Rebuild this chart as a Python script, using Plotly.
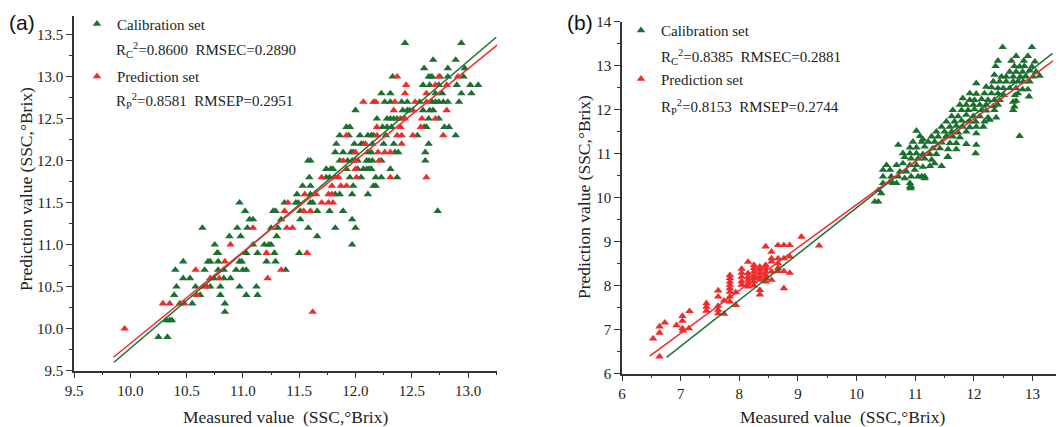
import plotly.graph_objects as go

# ---------------- Panel (a) data ----------------
a_cal_x = [10.25, 10.33, 10.32, 10.35, 10.37, 10.84, 10.44, 10.55, 10.84,
           10.39, 10.62, 10.80, 11.03, 11.13,
           10.41, 10.58, 10.71, 10.80, 10.97, 11.12,
           10.47, 10.53, 10.74, 10.83, 10.89,
           10.40, 10.66, 10.78, 10.83, 10.94, 11.00, 11.03, 11.38,
           10.47, 10.69, 10.71, 10.78, 10.97, 10.99, 11.21, 11.29,
           10.77, 10.78, 11.03, 11.13, 11.28, 11.50,
           10.75, 11.09, 11.19, 11.23, 11.25, 11.97,
           10.88, 10.98, 11.30, 11.66,
           10.64, 10.95, 11.04, 11.25, 11.31, 11.58, 11.82, 12.00,
           11.06, 11.09, 11.34, 11.51, 11.97,
           11.02, 11.27, 11.29, 11.51, 11.66, 11.77, 11.89, 12.73,
           10.97, 11.37, 11.47, 11.49, 11.60, 11.62,
           11.48, 11.60, 11.82, 11.86, 11.97, 12.11,
           11.53, 11.60, 11.98, 12.16, 12.18,
           11.59, 11.74, 11.77, 11.95, 12.05, 12.18, 12.23, 12.37,
           11.74, 11.78, 11.80, 11.92, 12.02, 12.07, 12.10, 12.12, 12.14, 12.31,
           11.58, 11.60, 11.86, 11.93, 11.97, 12.02, 12.10, 12.12, 12.15, 12.23, 12.62,
           11.82, 11.89, 11.96, 11.98, 12.11, 12.14, 12.35, 12.38, 12.62,
           11.83, 11.99, 12.05, 12.07, 12.15, 12.25, 12.34, 12.65,
           11.86, 11.94, 12.04, 12.11, 12.14, 12.16, 12.27, 12.55, 12.89,
           11.92, 11.95, 12.24, 12.28, 12.32, 12.61, 12.63, 12.79, 12.83,
           12.19, 12.28, 12.31, 12.34, 12.37, 12.65, 12.74,
           12.00, 12.42, 12.46, 12.48, 12.60, 12.66, 12.69,
           12.26, 12.31, 12.41, 12.46, 12.57, 12.68, 12.71, 12.74, 12.78, 12.82, 12.92,
           12.23, 12.31, 12.71, 12.77, 12.94, 13.03,
           12.60, 12.66, 12.74, 12.90, 13.02, 13.09,
           12.33, 12.65, 12.67, 12.68, 12.75, 12.82, 12.96,
           12.61, 12.82, 12.97,
           12.69, 12.89,
           12.44, 12.94]
a_cal_y = [9.9, 9.9, 10.1, 10.1, 10.1, 10.2, 10.3, 10.3, 10.3,
           10.4, 10.4, 10.4, 10.4, 10.4,
           10.5, 10.5, 10.5, 10.5, 10.5, 10.5,
           10.6, 10.6, 10.6, 10.6, 10.6,
           10.7, 10.7, 10.7, 10.7, 10.7, 10.7, 10.7, 10.7,
           10.8, 10.8, 10.8, 10.8, 10.8, 10.8, 10.8, 10.8,
           10.9, 10.9, 10.9, 10.9, 10.9, 10.9,
           11.0, 11.0, 11.0, 11.0, 11.0, 11.0,
           11.1, 11.1, 11.1, 11.1,
           11.2, 11.2, 11.2, 11.2, 11.2, 11.2, 11.2, 11.2,
           11.3, 11.3, 11.3, 11.3, 11.3,
           11.4, 11.4, 11.4, 11.4, 11.4, 11.4, 11.4, 11.4,
           11.5, 11.5, 11.5, 11.5, 11.5, 11.5,
           11.6, 11.6, 11.6, 11.6, 11.6, 11.6,
           11.7, 11.7, 11.7, 11.7, 11.7,
           11.8, 11.8, 11.8, 11.8, 11.8, 11.8, 11.8, 11.8,
           11.9, 11.9, 11.9, 11.9, 11.9, 11.9, 11.9, 11.9, 11.9, 11.9,
           12.0, 12.0, 12.0, 12.0, 12.0, 12.0, 12.0, 12.0, 12.0, 12.0, 12.0,
           12.1, 12.1, 12.1, 12.1, 12.1, 12.1, 12.1, 12.1, 12.1,
           12.2, 12.2, 12.2, 12.2, 12.2, 12.2, 12.2, 12.2,
           12.3, 12.3, 12.3, 12.3, 12.3, 12.3, 12.3, 12.3, 12.3,
           12.4, 12.4, 12.4, 12.4, 12.4, 12.4, 12.4, 12.4, 12.4,
           12.5, 12.5, 12.5, 12.5, 12.5, 12.5, 12.5,
           12.6, 12.6, 12.6, 12.6, 12.6, 12.6, 12.6,
           12.7, 12.7, 12.7, 12.7, 12.7, 12.7, 12.7, 12.7, 12.7, 12.7, 12.7,
           12.8, 12.8, 12.8, 12.8, 12.8, 12.8,
           12.9, 12.9, 12.9, 12.9, 12.9, 12.9,
           13.0, 13.0, 13.0, 13.0, 13.0, 13.0, 13.0,
           13.1, 13.1, 13.1,
           13.2, 13.2,
           13.4, 13.4]

a_pre_x = [9.95, 11.62, 10.29, 10.35, 10.48, 10.59, 10.65, 10.68,
           10.71, 10.79, 11.22, 10.58, 11.34, 10.84, 11.21, 11.57,
           10.89, 11.09, 11.39, 11.44, 11.37, 11.54, 11.60,
           11.40, 11.70, 11.76, 11.80, 11.55, 11.65, 11.76, 11.79,
           11.79, 11.87, 11.92, 11.70, 11.82, 11.85, 12.01, 12.31, 12.63,
           12.00, 11.89, 12.00, 12.21, 12.00, 12.20, 12.26, 12.31,
           12.09, 12.41, 11.92, 12.19, 12.37, 12.41, 12.51, 12.78,
           12.19, 12.40, 12.58, 12.40, 12.44, 12.59, 12.71,
           12.34, 12.51, 12.81, 12.07, 12.16, 12.18, 12.35, 12.53, 12.63,
           12.44, 12.63, 12.45, 12.71, 12.81, 12.37, 12.74, 12.91]
a_pre_y = [10.0, 10.2, 10.3, 10.3, 10.3, 10.4, 10.5, 10.5,
           10.6, 10.6, 10.6, 10.7, 10.7, 10.8, 10.9, 10.9,
           11.0, 11.2, 11.2, 11.2, 11.4, 11.4, 11.4,
           11.5, 11.5, 11.5, 11.5, 11.6, 11.6, 11.6, 11.6,
           11.7, 11.7, 11.7, 11.8, 11.8, 11.8, 11.8, 11.8, 11.8,
           11.9, 12.0, 12.0, 12.0, 12.1, 12.1, 12.1, 12.1,
           12.2, 12.2, 12.3, 12.3, 12.3, 12.3, 12.3, 12.3,
           12.4, 12.4, 12.4, 12.5, 12.5, 12.5, 12.5,
           12.6, 12.6, 12.6, 12.7, 12.7, 12.7, 12.7, 12.7, 12.7,
           12.8, 12.8, 12.9, 12.9, 12.9, 13.0, 13.0, 13.0]

a_cal_fit_x = [9.855, 13.25]
a_cal_fit_y = [9.60, 13.47]
a_pre_fit_x = [9.85, 13.29]
a_pre_fit_y = [9.66, 13.41]

# ---------------- Panel (b) data ----------------
b_cal_x = [12.49, 12.99,
           12.72, 12.92,
           12.41, 12.64, 12.85, 13.04,
           12.37, 12.69, 12.78, 12.86, 12.99,
           12.61, 12.72, 12.83, 12.95, 13.06,
           12.35, 12.47, 12.55, 12.67, 12.79, 12.89, 13.01, 13.12,
           12.04, 12.33, 12.44, 12.55, 12.67, 12.75, 12.84, 12.95,
           12.21, 12.30, 12.41, 12.50, 12.61, 12.72, 12.83, 12.92,
           11.93, 12.04, 12.18, 12.30, 12.41, 12.51, 12.70, 12.75, 12.94,
           11.81, 11.93, 12.01, 12.13, 12.24, 12.35, 12.44, 12.67, 12.72,
           11.76, 11.87, 11.99, 12.10, 12.21, 12.33, 12.41, 12.69,
           11.64, 11.79, 11.90, 12.01, 12.13, 12.21, 12.35, 12.67,
           11.62, 11.73, 11.87, 11.99, 12.10, 12.24, 12.38,
           11.53, 11.67, 11.79, 11.93, 12.03, 12.18, 12.27,
           11.45, 11.59, 11.70, 11.81, 11.93, 12.04, 12.16,
           11.36, 11.50, 11.62, 11.73, 11.87, 12.04,
           11.02, 11.28, 11.39, 11.53, 11.64, 11.76, 12.78,
           11.08, 11.13,
           10.96, 11.11, 11.22, 11.33, 11.45, 11.59, 11.70, 11.87, 12.04,
           10.71, 10.91, 11.02, 11.16, 11.30, 11.42, 11.56, 11.70,
           10.79, 10.91, 11.02, 11.13, 11.25, 11.36, 12.03,
           10.82, 10.93, 11.05, 11.16, 11.28, 11.55, 11.56,
           10.51, 10.68, 10.79, 10.91, 11.02, 11.13, 11.25, 11.33, 11.45,
           10.45, 10.57, 10.74, 10.85, 10.99, 11.11,
           10.45, 10.59, 10.71, 10.82, 10.93, 11.05, 11.16, 11.16,
           10.45, 10.57, 10.62, 10.68, 10.91, 10.93, 10.92,
           10.37, 10.42, 10.91,
           10.31, 10.37]
b_cal_y = [13.42, 13.42,
           13.22, 13.22,
           13.11, 13.11, 13.11, 13.09,
           12.99, 12.99, 12.98, 12.99, 12.98,
           12.86, 12.86, 12.86, 12.89, 12.86,
           12.79, 12.75, 12.75, 12.75, 12.75, 12.75, 12.75, 12.77,
           12.60, 12.64, 12.64, 12.64, 12.64, 12.64, 12.64, 12.64,
           12.52, 12.51, 12.49, 12.49, 12.49, 12.49, 12.46, 12.46,
           12.37, 12.36, 12.37, 12.37, 12.37, 12.33, 12.33, 12.37, 12.30,
           12.26, 12.22, 12.22, 12.24, 12.22, 12.22, 12.22, 12.18, 12.20,
           12.11, 12.11, 12.11, 12.11, 12.11, 12.08, 12.11, 12.07,
           11.99, 11.99, 11.99, 12.01, 11.99, 11.98, 11.99, 11.99,
           11.85, 11.85, 11.88, 11.85, 11.85, 11.82, 11.82,
           11.73, 11.73, 11.75, 11.73, 11.73, 11.73, 11.77,
           11.61, 11.61, 11.63, 11.61, 11.60, 11.61, 11.61,
           11.50, 11.50, 11.50, 11.48, 11.50, 11.46,
           11.52, 11.39, 11.39, 11.40, 11.39, 11.37, 11.40,
           11.40, 11.33,
           11.27, 11.27, 11.27, 11.27, 11.25, 11.24, 11.24, 11.22, 11.20,
           11.20, 11.14, 11.14, 11.16, 11.12, 11.12, 11.10, 11.10,
           11.01, 11.01, 11.01, 10.99, 10.99, 10.99, 11.01,
           10.92, 10.89, 10.89, 10.89, 10.86, 10.92, 10.93,
           10.74, 10.74, 10.78, 10.74, 10.74, 10.70, 10.72, 10.78, 10.72,
           10.63, 10.63, 10.59, 10.59, 10.63, 10.48,
           10.48, 10.48, 10.48, 10.44, 10.48, 10.48, 10.48, 10.44,
           10.33, 10.36, 10.33, 10.33, 10.33, 10.25, 10.21,
           10.17, 10.10, 10.25,
           9.91, 9.91]

b_pre_x = [6.53, 6.64, 6.64, 6.64, 6.73, 6.93, 7.03, 7.03, 7.03, 7.04,
           7.14, 7.15, 7.44, 7.44, 7.44, 7.64, 7.64, 7.64, 7.64, 7.64,
           7.74, 7.74, 7.84, 7.84, 7.84, 7.84, 7.84, 7.84, 7.84, 7.84,
           7.94, 7.94, 8.04, 8.04, 8.04, 8.04, 8.04, 8.15, 8.15, 8.15,
           8.15, 8.15, 8.15, 8.25, 8.25, 8.25, 8.25, 8.25, 8.25, 8.25,
           8.35, 8.35, 8.35, 8.35, 8.35, 8.35, 8.35, 8.45, 8.45, 8.45,
           8.45, 8.45, 8.45, 8.45, 8.55, 8.55, 8.55, 8.55, 8.55, 8.66,
           8.66, 8.66, 8.66, 8.66, 8.76, 8.76, 8.76, 8.76, 8.86, 8.86,
           8.86, 9.06, 9.36]
b_pre_y = [6.80, 6.39, 6.93, 7.07, 7.16, 7.10, 7.03, 7.20, 7.31, 6.98,
           7.03, 7.42, 7.43, 7.52, 7.60, 7.37, 7.45, 7.54, 7.75, 7.89,
           7.36, 7.66, 7.64, 7.75, 7.86, 7.94, 8.02, 8.09, 8.17, 8.24,
           7.56, 7.85, 8.02, 8.10, 8.20, 8.29, 8.38, 8.54, 7.98, 8.05,
           8.13, 8.20, 8.28, 8.00, 8.09, 8.17, 8.24, 8.32, 8.40, 8.47,
           7.80, 7.90, 8.13, 8.20, 8.28, 8.36, 8.43, 8.09, 8.17, 8.24,
           8.32, 8.40, 8.47, 8.89, 8.13, 8.32, 8.55, 8.62, 8.77, 8.33,
           8.40, 8.51, 8.62, 8.92, 7.94, 8.33, 8.62, 8.92, 8.29, 8.66,
           8.92, 9.11, 8.91]

b_cal_fit_x = [6.76, 13.34]
b_cal_fit_y = [6.37, 13.28]
b_pre_fit_x = [6.47, 13.35]
b_pre_fit_y = [6.40, 13.11]

a_stats = ["R<sub>C</sub><sup>2</sup>=0.8600  RMSEC=0.2890",
           "R<sub>P</sub><sup>2</sup>=0.8581  RMSEP=0.2951"]
b_stats = ["R<sub>C</sub><sup>2</sup>=0.8385  RMSEC=0.2881",
           "R<sub>P</sub><sup>2</sup>=0.8153  RMSEP=0.2744"]

GREEN = "#1B6F2F"
RED = "#EE2C2C"
SERIF = "Liberation Serif"
W, H = 1059, 427


def PX(x):
    return x / W


def PY(y):
    return 1 - y / H


fig = go.Figure()


def add_panel(xa, ya, legend, tag, cal_x, cal_y, pre_x, pre_y, cfx, cfy, pfx, pfy):
    fig.add_trace(go.Scatter(x=cal_x, y=cal_y, mode="markers", xaxis=xa, yaxis=ya,
                             marker=dict(symbol="triangle-up", size=7.5, color=GREEN),
                             name="Calibration set", legend=legend, legendgroup=tag + "c"))
    fig.add_trace(go.Scatter(x=pre_x, y=pre_y, mode="markers", xaxis=xa, yaxis=ya,
                             marker=dict(symbol="triangle-up", size=7.5, color=RED),
                             name="Prediction set", legend=legend, legendgroup=tag + "p"))
    fig.add_trace(go.Scatter(x=cfx, y=cfy, mode="lines", xaxis=xa, yaxis=ya,
                             line=dict(color=GREEN, width=1.5), showlegend=False))
    fig.add_trace(go.Scatter(x=pfx, y=pfy, mode="lines", xaxis=xa, yaxis=ya,
                             line=dict(color=RED, width=1.5), showlegend=False))


add_panel("x", "y", "legend", "a", a_cal_x, a_cal_y, a_pre_x, a_pre_y,
          a_cal_fit_x, a_cal_fit_y, a_pre_fit_x, a_pre_fit_y)
add_panel("x2", "y2", "legend2", "b", b_cal_x, b_cal_y, b_pre_x, b_pre_y,
          b_cal_fit_x, b_cal_fit_y, b_pre_fit_x, b_pre_fit_y)

axis_common = dict(showline=True, linecolor="#333333", linewidth=1.5, mirror=False,
                   ticks="outside", ticklen=6, tickwidth=1.3, tickcolor="#333333",
                   showgrid=False, zeroline=False, automargin=False,
                   tickfont=dict(family=SERIF, size=15, color="#222222"))
legend_common = dict(xanchor="left", yanchor="top",
                     font=dict(family=SERIF, size=15, color="#222222"),
                     bgcolor="rgba(0,0,0,0)", itemwidth=30)

fig.update_layout(
    width=W, height=H,
    margin=dict(l=0, r=0, t=0, b=0, autoexpand=False),
    paper_bgcolor="white", plot_bgcolor="white",
    xaxis=dict(domain=[PX(74), PX(497)], range=[9.5, 13.257], dtick=0.5, tick0=9.5,
               tickformat=".1f", anchor="y",
               minor=dict(ticks="outside", ticklen=3, dtick=0.25, tickcolor="#333333"),
               **axis_common),
    yaxis=dict(domain=[PY(370.7), PY(15.7)], range=[9.5, 13.726], dtick=0.5, tick0=9.5,
               tickformat=".1f", anchor="x",
               minor=dict(ticks="outside", ticklen=3, dtick=0.25, tickcolor="#333333"),
               **axis_common),
    xaxis2=dict(domain=[PX(622), PX(1056)], range=[6, 13.4], dtick=1, tick0=6, anchor="y2",
                minor=dict(ticks="outside", ticklen=3, dtick=0.5, tickcolor="#333333"),
                **axis_common),
    yaxis2=dict(domain=[PY(373.7), PY(21.7)], range=[6, 14], dtick=1, tick0=6, anchor="x2",
                minor=dict(ticks="outside", ticklen=3, dtick=0.5, tickcolor="#333333"),
                **axis_common),
    legend=dict(x=PX(77), y=PY(7.5), tracegroupgap=30, **legend_common),
    legend2=dict(x=PX(621), y=PY(14), tracegroupgap=26, **legend_common),
    showlegend=True,
)

ann = []
lab_font = dict(family="Liberation Sans", size=21, color="#111111")
ann.append(dict(text="(a)", x=PX(7), y=PY(22), xref="paper", yref="paper",
                xanchor="left", yanchor="middle", showarrow=False, font=lab_font))
ann.append(dict(text="(b)", x=PX(565), y=PY(22), xref="paper", yref="paper",
                xanchor="left", yanchor="middle", showarrow=False, font=lab_font))
title_font = dict(family=SERIF, size=17.5, color="#222222")
ann.append(dict(text="Measured value  (SSC,°Brix)", x=PX(285), y=PY(417),
                xref="paper", yref="paper", xanchor="center", yanchor="middle",
                showarrow=False, font=title_font))
ann.append(dict(text="Measured value  (SSC,°Brix)", x=PX(842), y=PY(417),
                xref="paper", yref="paper", xanchor="center", yanchor="middle",
                showarrow=False, font=title_font))
ann.append(dict(text="Prediction value (SSC,°Brix)", x=PX(26), y=PY(189),
                xref="paper", yref="paper", xanchor="center", yanchor="middle",
                textangle=-90, showarrow=False, font=title_font))
ann.append(dict(text="Prediction value (SSC,°Brix)", x=PX(584), y=PY(197),
                xref="paper", yref="paper", xanchor="center", yanchor="middle",
                textangle=-90, showarrow=False, font=title_font))
stat_font = dict(family=SERIF, size=15, color="#222222")
for txt, yy in zip(a_stats, [50, 101]):
    ann.append(dict(text=txt, x=PX(114), y=PY(yy), xref="paper", yref="paper",
                    xanchor="left", yanchor="middle", showarrow=False, font=stat_font))
for txt, yy in zip(b_stats, [57, 107]):
    ann.append(dict(text=txt, x=PX(659), y=PY(yy), xref="paper", yref="paper",
                    xanchor="left", yanchor="middle", showarrow=False, font=stat_font))
fig.update_layout(annotations=ann)

fig.write_html("out.html", config={"displayModeBar": False},
               post_script="document.body.style.margin='0';")
